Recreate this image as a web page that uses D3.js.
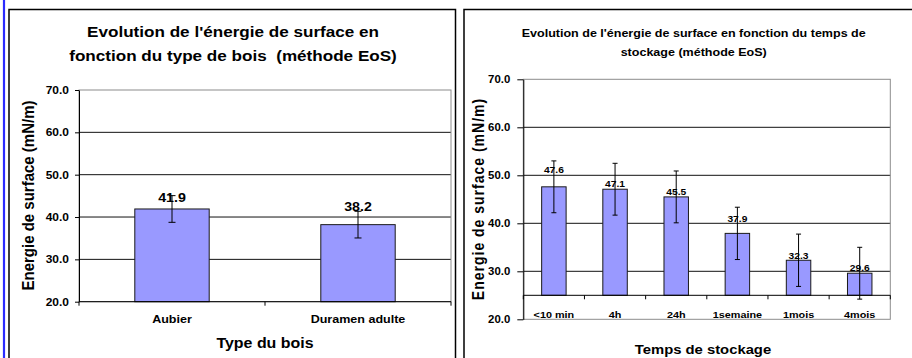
<!DOCTYPE html>
<html><head><meta charset="utf-8">
<script src="https://cdn.jsdelivr.net/npm/d3@7"></script>
<style>
html,body{margin:0;padding:0;background:#fff;}
svg{display:block;}
text{font-family:"Liberation Sans",Arial,sans-serif;font-weight:bold;fill:#000;white-space:pre;}
</style></head>
<body>
<svg id="chart" width="912" height="358"></svg>
<script>
// ---- data ----
const leftTitle = ["Evolution de l'énergie de surface en", "fonction du type de bois  (méthode EoS)"];
const leftCats = ["Aubier", "Duramen adulte"];
const leftValues = [41.9, 38.2];
const leftErrors = [3.15, 3.15];
const leftXTitle = "Type du bois";

const rightTitle = ["Evolution de l'énergie de surface en fonction du temps de", "stockage (méthode EoS)"];
const rightCats = ["<10 min", "4h", "24h", "1semaine", "1mois", "4mois"];
const rightValues = [47.6, 47.1, 45.5, 37.9, 32.3, 29.6];
const rightErrors = [5.4, 5.4, 5.4, 5.45, 5.45, 5.4];
const rightXTitle = "Temps de stockage";

const yTicks = [20, 30, 40, 50, 60, 70];
const yTitle = "Energie de surface (mN/m)";

// ---- layout (not data) ----
const SX = 1.14; // horizontal text stretch seen in the reference
const leftLabelLift = [7, 13.6];
const rightLabelLift = [13.5, 2.5, 2, 11.7, 1, 2.5];

const svg = d3.select("#chart");
const fmt = d3.format(".1f");

function txt(g, s, x, y, size, opts = {}) {
  const t = g.append("text").text(s).attr("font-size", size)
    .attr("text-anchor", opts.anchor || "middle");
  if (opts.ls) t.attr("letter-spacing", opts.ls);
  if (opts.rot) t.attr("transform", `translate(${x},${y}) rotate(-90) scale(1,${SX})`);
  else t.attr("transform", `translate(${x},${y}) scale(${opts.sx || SX},1)`);
  return t;
}

// blue side bar and frames
svg.append("line").attr("x1", 4).attr("x2", 4).attr("y1", 0).attr("y2", 358)
  .attr("stroke", "#2b2bff").attr("stroke-width", 2.2);
svg.append("path").attr("d", "M9,358 V9.5 H455.5 V358").attr("fill", "none")
  .attr("stroke", "#000").attr("stroke-width", 1.5);
svg.append("path").attr("d", "M464,358 V9.5 H912").attr("fill", "none")
  .attr("stroke", "#000").attr("stroke-width", 1.5);

function drawChart(cfg) {
  const g = svg.append("g");
  const y = d3.scaleLinear().domain([20, 70]).range([cfg.y1, cfg.y0]);
  const x = d3.scaleBand().domain(cfg.cats).range([cfg.x0, cfg.x1]).paddingInner(0).paddingOuter(0);
  const bw = x.bandwidth() * 0.4;
  const base = cfg.base;

  // gridlines
  g.append("g").selectAll("line").data(yTicks.filter(v => v > 20 && v < 70)).join("line")
    .attr("x1", cfg.x0).attr("x2", cfg.x1).attr("y1", d => y(d)).attr("y2", d => y(d))
    .attr("stroke", "#111").attr("stroke-width", 1);
  // plot border (gray)
  g.append("rect").attr("x", cfg.x0).attr("y", cfg.y0).attr("width", cfg.x1 - cfg.x0)
    .attr("height", cfg.y1 - cfg.y0).attr("fill", "none").attr("stroke", "#8c8c8c").attr("stroke-width", 1);

  // bars
  g.append("g").selectAll("rect").data(cfg.values).join("rect")
    .attr("x", (d, i) => x(cfg.cats[i]) + (x.bandwidth() - bw) / 2)
    .attr("width", bw)
    .attr("y", d => y(d)).attr("height", d => y(base) - y(d))
    .attr("fill", "#9999ff").attr("stroke", "#1a1a1a").attr("stroke-width", 1);

  // y axis
  const ax = g.append("g").attr("transform", `translate(${cfg.x0},0)`)
    .call(d3.axisLeft(y).tickValues(yTicks).tickSize(cfg.tick).tickSizeOuter(0).tickFormat(fmt));
  ax.select(".domain").attr("stroke", "#000");
  ax.selectAll(".tick line").attr("stroke", "#000");
  ax.selectAll(".tick text").attr("x", null).attr("font-size", cfg.tickFont)
    .attr("font-family", null).attr("text-anchor", "end")
    .attr("transform", `translate(${-cfg.tick - cfg.tickGap},0) scale(${SX},1)`);
  ax.attr("font-family", null).attr("font-size", null);

  // x axis line at base
  g.append("line").attr("x1", cfg.x0).attr("x2", cfg.x1).attr("y1", y(base)).attr("y2", y(base))
    .attr("stroke", "#000").attr("stroke-width", 1);
  const bounds = cfg.cats.map(c => x(c)).concat([cfg.x1]);
  g.append("g").selectAll("line").data(bounds).join("line")
    .attr("x1", d => d).attr("x2", d => d).attr("y1", y(base)).attr("y2", y(base) + 4)
    .attr("stroke", "#000");

  // error bars
  const eg = g.append("g").attr("stroke", "#000").attr("stroke-width", 1);
  cfg.values.forEach((v, i) => {
    const cx = x(cfg.cats[i]) + x.bandwidth() / 2;
    const e = cfg.errors[i];
    eg.append("line").attr("x1", cx).attr("x2", cx).attr("y1", y(v + e)).attr("y2", y(v - e));
    eg.append("line").attr("x1", cx - cfg.cap).attr("x2", cx + cfg.cap).attr("y1", y(v + e)).attr("y2", y(v + e));
    eg.append("line").attr("x1", cx - cfg.cap).attr("x2", cx + cfg.cap).attr("y1", y(v - e)).attr("y2", y(v - e));
  });

  // data labels
  cfg.values.forEach((v, i) => {
    const cx = x(cfg.cats[i]) + x.bandwidth() / 2;
    txt(g, fmt(v), cx, y(v) - cfg.lift[i], cfg.labelFont);
  });

  // category labels
  cfg.cats.forEach(c => txt(g, c, x(c) + x.bandwidth() / 2, cfg.catY, cfg.catFont));

  // titles
  cfg.title.forEach((s, i) => txt(g, s, cfg.titleX, cfg.titleY[i], cfg.titleFont));
  txt(g, cfg.xTitle, cfg.xTitleX, cfg.xTitleY, cfg.xTitleFont);
  txt(g, yTitle, cfg.yTitleX, cfg.yTitleY, cfg.yTitleFont, { rot: true, ls: cfg.yTitleLs });
}

drawChart({
  x0: 79, x1: 451, y0: 90, y1: 301.7, base: 20,
  cats: leftCats, values: leftValues, errors: leftErrors, lift: leftLabelLift,
  tick: 4, tickGap: 6, tickFont: 10.5, cap: 3.5, labelFont: 12.5,
  catY: 323.3, catFont: 11,
  title: leftTitle, titleX: 233, titleY: [36.7, 61.2], titleFont: 15,
  xTitle: leftXTitle, xTitleX: 265, xTitleY: 348.3, xTitleFont: 14,
  yTitleX: 33.5, yTitleY: 195.5, yTitleFont: 15, yTitleLs: 0
});

drawChart({
  x0: 523.3, x1: 890.3, y0: 79.3, y1: 319.3, base: 25,
  cats: rightCats, values: rightValues, errors: rightErrors, lift: rightLabelLift,
  tick: 6, tickGap: 7, tickFont: 10, cap: 2.5, labelFont: 9,
  catY: 317.7, catFont: 9.5,
  title: rightTitle, titleX: 693.7, titleY: [36.7, 55.5], titleFont: 11,
  xTitle: rightXTitle, xTitleX: 703, xTitleY: 354, xTitleFont: 13,
  yTitleX: 484, yTitleY: 199, yTitleFont: 14, yTitleLs: 1
});
</script>
</body></html>
